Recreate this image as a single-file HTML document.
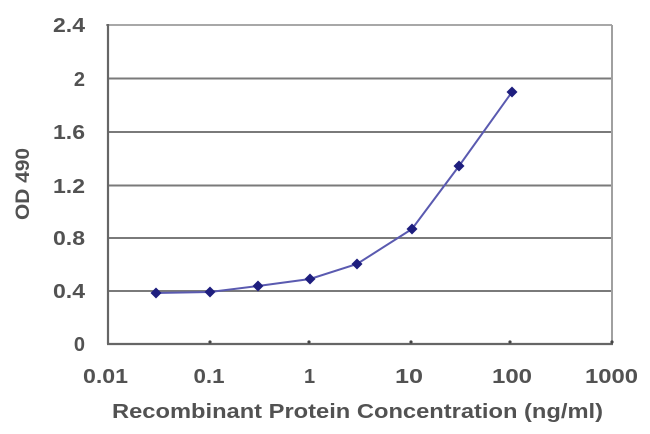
<!DOCTYPE html>
<html><head><meta charset="utf-8"><style>
html,body{margin:0;padding:0;background:#fff;}
svg{display:block;}
text{font-family:"Liberation Sans",Arial,sans-serif;font-weight:bold;fill:#525252;}
</style></head><body>
<svg width="650" height="434" viewBox="0 0 650 434" xmlns="http://www.w3.org/2000/svg">
<rect width="650" height="434" fill="#fff"/>
<!-- gridlines -->
<g stroke="#7a7a7a" stroke-width="2">
<line x1="108" y1="78.5" x2="612" y2="78.5"/>
<line x1="108" y1="132" x2="612" y2="132"/>
<line x1="108" y1="185.5" x2="612" y2="185.5"/>
<line x1="108" y1="238" x2="612" y2="238"/>
<line x1="108" y1="291" x2="612" y2="291"/>
</g>
<line x1="106" y1="25" x2="612" y2="25" stroke="#a8a8a8" stroke-width="2"/>
<line x1="612" y1="25" x2="612" y2="344" stroke="#a0a0a0" stroke-width="2"/>
<!-- axes -->
<line x1="108" y1="24" x2="108" y2="344" stroke="#666" stroke-width="2.2"/>
<line x1="107" y1="344" x2="613" y2="344" stroke="#666" stroke-width="2.2"/>
<!-- x ticks -->
<g fill="#444">
<circle cx="210" cy="342" r="1.6"/>
<circle cx="309" cy="342" r="1.6"/>
<circle cx="411" cy="342" r="1.6"/>
<circle cx="510" cy="342" r="1.6"/>
<circle cx="612" cy="342" r="1.6"/>
</g>
<!-- y labels -->
<g font-size="20" text-anchor="end">
<text x="85" y="32" textLength="32" lengthAdjust="spacingAndGlyphs">2.4</text>
<text x="85" y="86">2</text>
<text x="85" y="139" textLength="32" lengthAdjust="spacingAndGlyphs">1.6</text>
<text x="85" y="193" textLength="32" lengthAdjust="spacingAndGlyphs">1.2</text>
<text x="85" y="245" textLength="32" lengthAdjust="spacingAndGlyphs">0.8</text>
<text x="85" y="298" textLength="32" lengthAdjust="spacingAndGlyphs">0.4</text>
<text x="85" y="351">0</text>
</g>
<!-- x labels -->
<g font-size="20" text-anchor="middle">
<text x="105.5" y="383" textLength="45" lengthAdjust="spacingAndGlyphs">0.01</text>
<text x="209" y="383" textLength="31" lengthAdjust="spacingAndGlyphs">0.1</text>
<text x="309.5" y="383">1</text>
<text x="409" y="383" textLength="28" lengthAdjust="spacingAndGlyphs">10</text>
<text x="512" y="383" textLength="40" lengthAdjust="spacingAndGlyphs">100</text>
<text x="611.5" y="383" textLength="53" lengthAdjust="spacingAndGlyphs">1000</text>
</g>
<!-- axis titles -->
<text x="357.5" y="418" font-size="20" text-anchor="middle" textLength="491" lengthAdjust="spacingAndGlyphs">Recombinant Protein Concentration (ng/ml)</text>
<text transform="translate(29,184) rotate(-90)" font-size="19" text-anchor="middle" textLength="72" lengthAdjust="spacingAndGlyphs">OD 490</text>
<!-- series -->
<polyline fill="none" stroke="#5a5ab0" stroke-width="2" points="156,293 210,292 258,286 310,279 357,264 412,229 459,166 512,92"/>
<g fill="#1e1e7e">
<path d="M156,287.5 L161.5,293 L156,298.5 L150.5,293 Z"/>
<path d="M210,286.5 L215.5,292 L210,297.5 L204.5,292 Z"/>
<path d="M258,280.5 L263.5,286 L258,291.5 L252.5,286 Z"/>
<path d="M310,273.5 L315.5,279 L310,284.5 L304.5,279 Z"/>
<path d="M357,258.5 L362.5,264 L357,269.5 L351.5,264 Z"/>
<path d="M412,223.5 L417.5,229 L412,234.5 L406.5,229 Z"/>
<path d="M459,160.5 L464.5,166 L459,171.5 L453.5,166 Z"/>
<path d="M512,86.5 L517.5,92 L512,97.5 L506.5,92 Z"/>
</g>
</svg>
</body></html>
